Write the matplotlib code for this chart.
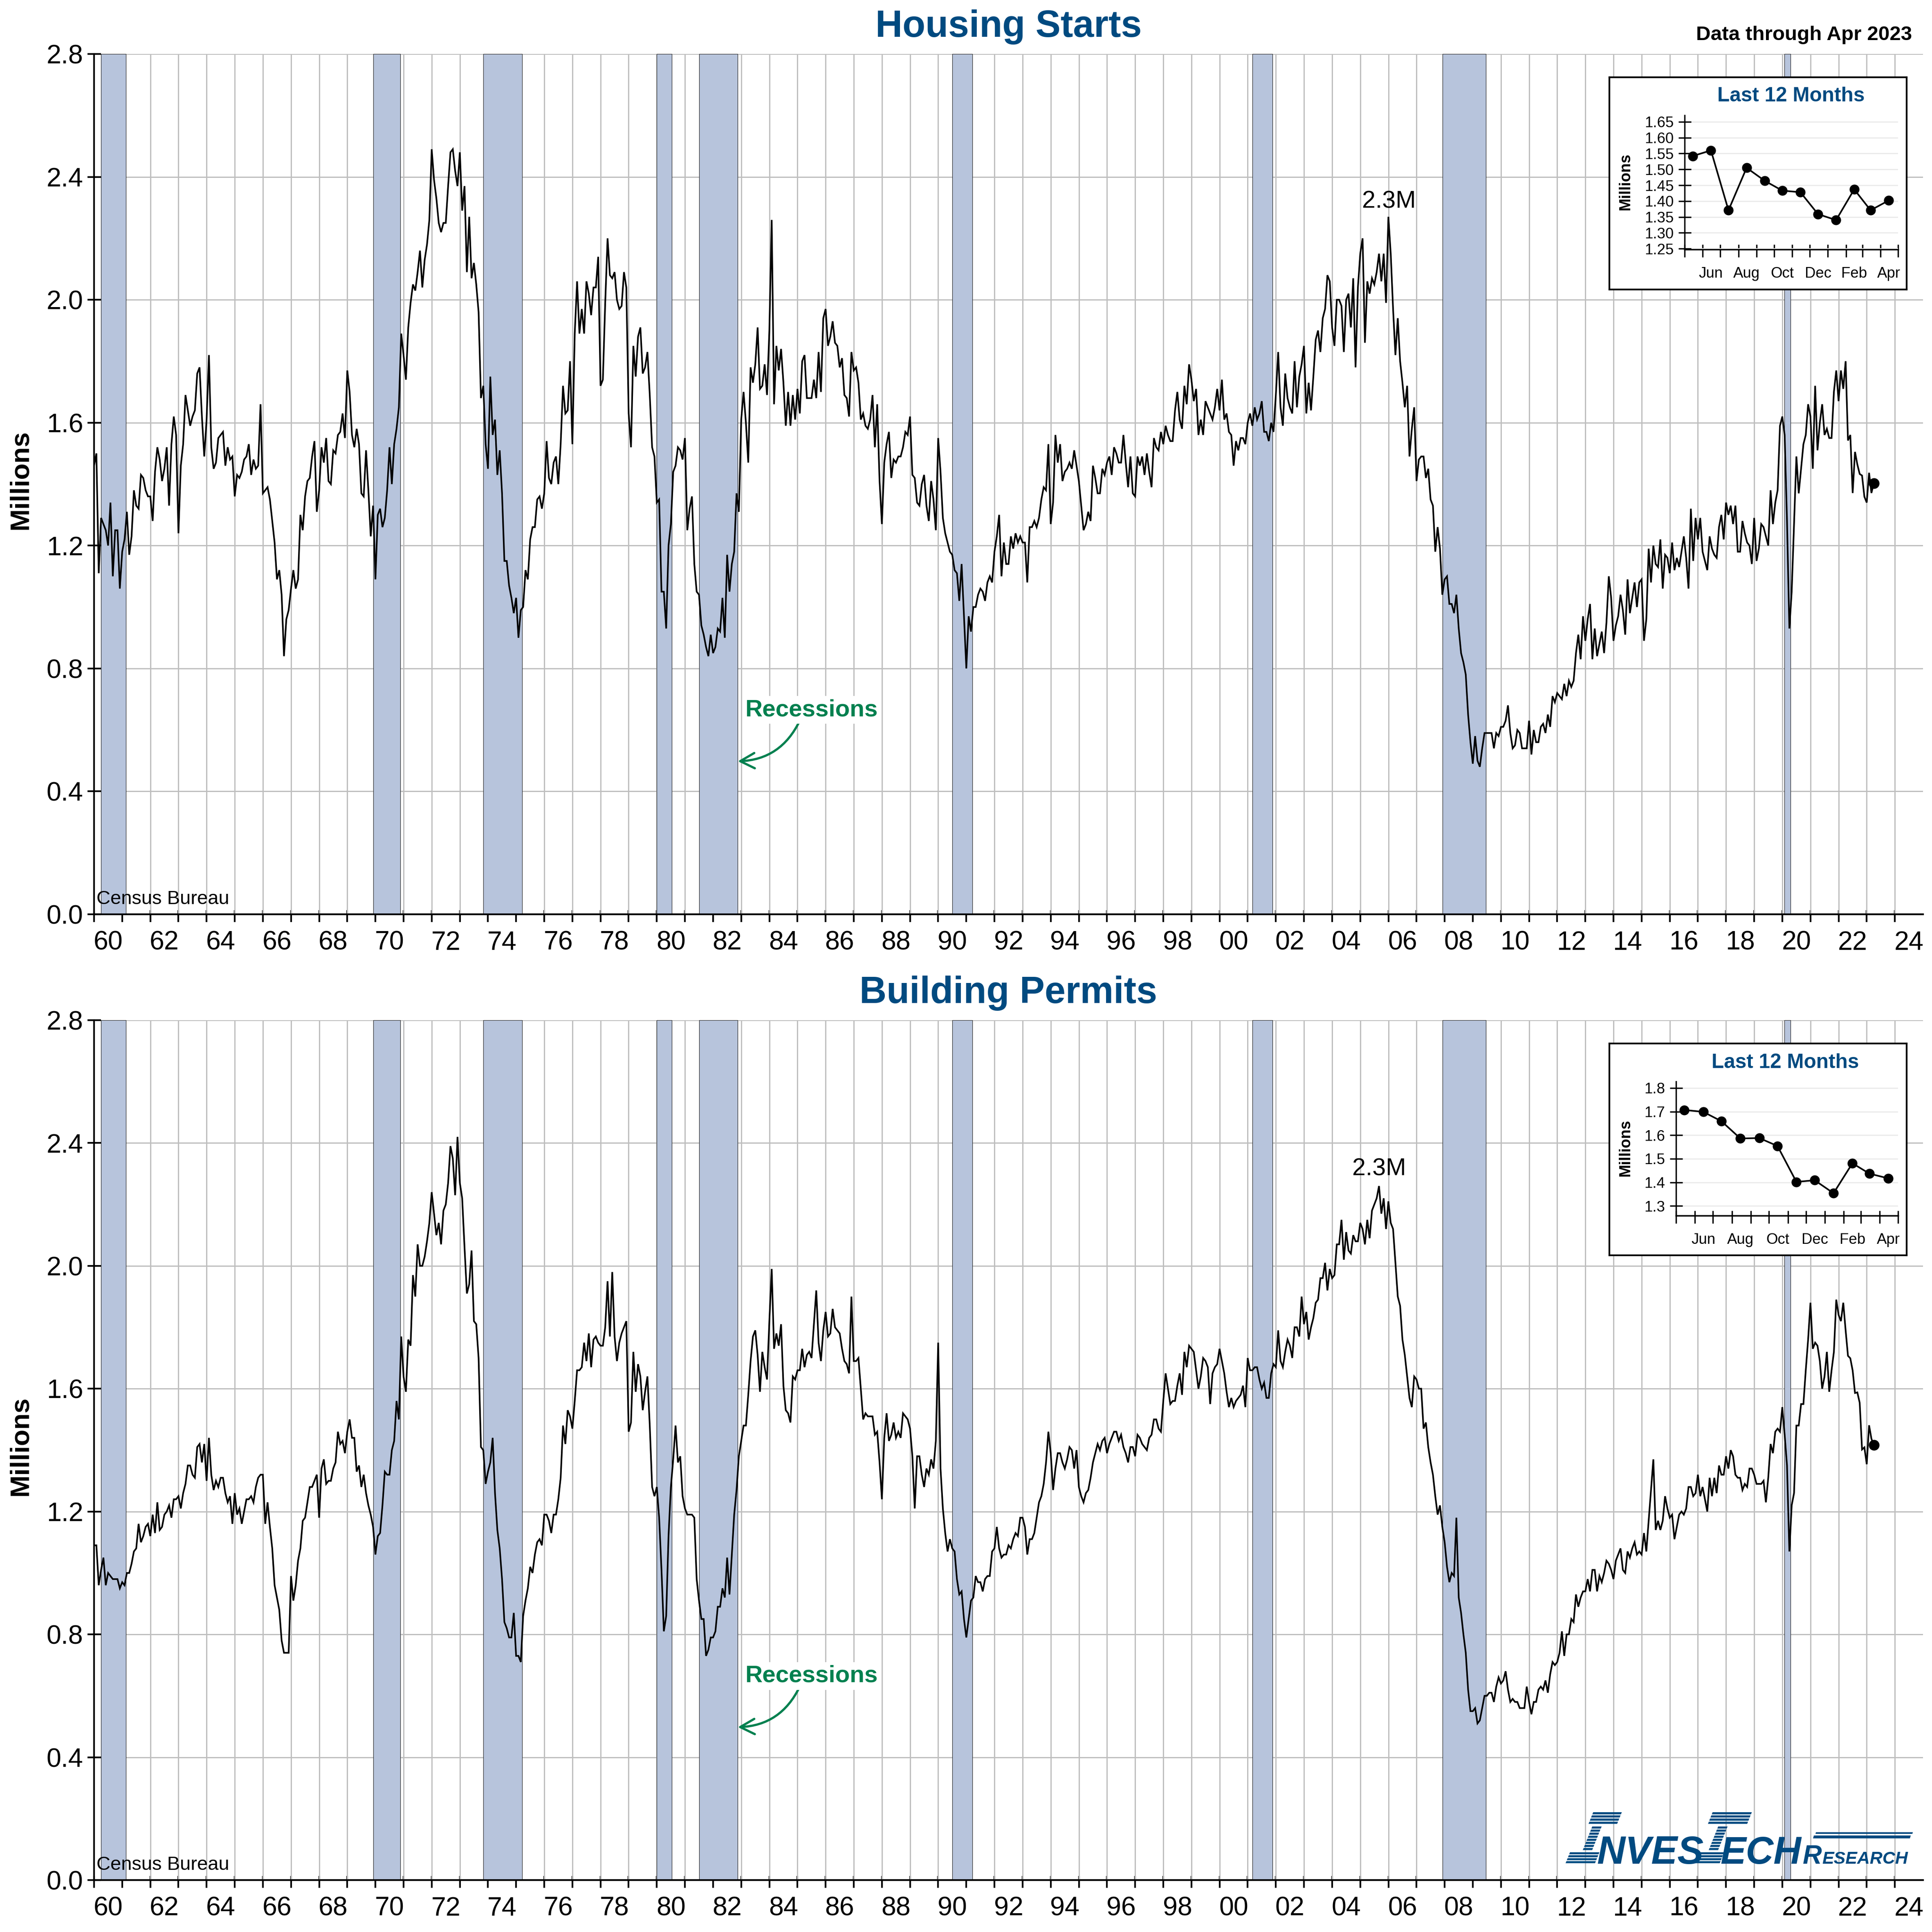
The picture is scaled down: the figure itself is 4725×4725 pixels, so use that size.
import numpy as np
import matplotlib
matplotlib.use("Agg")
import matplotlib.pyplot as plt
import matplotlib.dates as mdates
from matplotlib.patches import Polygon
from matplotlib.ticker import FixedLocator, FixedFormatter, NullFormatter
from matplotlib.transforms import Affine2D

plt.rcParams['font.family'] = ['Liberation Sans', 'DejaVu Sans']

# ---------------- data ----------------
starts_1960s = [
 1.46,1.50,1.11,1.29,1.27,1.25,1.20,1.34,1.10,1.25,1.25,1.06,
 1.18,1.22,1.31,1.17,1.23,1.38,1.33,1.32,1.43,1.42,1.38,1.36,
 1.36,1.28,1.44,1.52,1.48,1.41,1.45,1.52,1.33,1.53,1.62,1.56,
 1.24,1.46,1.53,1.69,1.64,1.59,1.62,1.64,1.76,1.78,1.62,1.49,
 1.61,1.82,1.52,1.45,1.47,1.55,1.56,1.57,1.46,1.52,1.48,1.49,
 1.36,1.43,1.42,1.44,1.48,1.49,1.53,1.43,1.48,1.45,1.46,1.66,
 1.37,1.38,1.39,1.35,1.28,1.21,1.09,1.12,1.04,0.84,0.96,0.99,
 1.06,1.12,1.06,1.09,1.30,1.25,1.36,1.41,1.42,1.49,1.54,1.31,
 1.38,1.52,1.47,1.55,1.41,1.40,1.51,1.50,1.56,1.57,1.63,1.55,
 1.77,1.70,1.56,1.52,1.58,1.53,1.37,1.36,1.51,1.38,1.23,1.33]
starts_1970s = [
 1.09,1.30,1.32,1.26,1.29,1.38,1.52,1.40,1.53,1.58,1.65,1.89,
 1.82,1.74,1.91,1.99,2.05,2.03,2.09,2.16,2.04,2.13,2.18,2.26,
 2.49,2.39,2.33,2.25,2.22,2.25,2.25,2.37,2.48,2.49,2.42,2.37,
 2.48,2.29,2.37,2.09,2.27,2.07,2.12,2.05,1.96,1.68,1.72,1.53,
 1.45,1.75,1.56,1.61,1.43,1.51,1.37,1.15,1.15,1.07,1.03,0.98,
 1.03,0.90,0.99,1.00,1.12,1.09,1.22,1.26,1.26,1.35,1.36,1.32,
 1.37,1.54,1.42,1.40,1.47,1.49,1.40,1.53,1.72,1.63,1.64,1.80,
 1.53,1.89,2.06,1.89,1.97,1.89,2.06,2.02,1.95,2.04,2.04,2.14,
 1.72,1.74,1.99,2.20,2.08,2.07,2.09,2.00,1.97,1.98,2.09,2.04,
 1.63,1.52,1.85,1.75,1.88,1.91,1.76,1.78,1.83,1.69,1.52,1.49]
starts_1980s = [
 1.34,1.35,1.05,1.05,0.93,1.20,1.27,1.44,1.46,1.52,1.51,1.48,
 1.55,1.25,1.32,1.36,1.14,1.05,1.04,0.94,0.91,0.87,0.84,0.91,
 0.85,0.87,0.93,0.92,1.03,0.90,1.17,1.05,1.14,1.18,1.37,1.31,
 1.61,1.70,1.60,1.47,1.78,1.73,1.79,1.91,1.71,1.72,1.79,1.69,
 1.90,2.26,1.66,1.85,1.77,1.84,1.73,1.59,1.70,1.59,1.69,1.61,
 1.71,1.63,1.80,1.82,1.68,1.68,1.68,1.74,1.68,1.83,1.70,1.94,
 1.97,1.85,1.88,1.93,1.86,1.85,1.78,1.81,1.69,1.68,1.62,1.83,
 1.77,1.78,1.73,1.61,1.63,1.59,1.58,1.61,1.69,1.52,1.66,1.41,
 1.27,1.47,1.53,1.57,1.42,1.48,1.47,1.49,1.49,1.52,1.57,1.56,
 1.62,1.43,1.42,1.34,1.33,1.40,1.43,1.33,1.28,1.41,1.35,1.25]
starts_1990s = [
 1.55,1.44,1.29,1.24,1.21,1.18,1.17,1.12,1.11,1.02,1.14,0.97,
 0.80,0.97,0.92,1.00,1.00,1.04,1.06,1.05,1.02,1.08,1.10,1.08,
 1.18,1.23,1.30,1.10,1.21,1.14,1.14,1.23,1.19,1.24,1.21,1.23,
 1.21,1.21,1.08,1.26,1.26,1.28,1.26,1.29,1.35,1.39,1.38,1.53,
 1.27,1.34,1.56,1.47,1.53,1.41,1.44,1.45,1.47,1.45,1.51,1.46,
 1.41,1.33,1.25,1.27,1.31,1.28,1.46,1.42,1.37,1.37,1.45,1.43,
 1.47,1.49,1.43,1.52,1.50,1.47,1.47,1.56,1.47,1.39,1.49,1.37,
 1.36,1.49,1.46,1.49,1.43,1.50,1.44,1.39,1.55,1.52,1.51,1.57,
 1.53,1.59,1.56,1.54,1.54,1.64,1.70,1.61,1.58,1.72,1.66,1.79,
 1.74,1.67,1.71,1.56,1.61,1.56,1.67,1.65,1.63,1.61,1.65,1.71]
starts_2000s = [
 1.64,1.74,1.61,1.63,1.57,1.56,1.46,1.54,1.51,1.55,1.55,1.53,
 1.60,1.63,1.59,1.65,1.61,1.63,1.67,1.57,1.57,1.54,1.60,1.57,
 1.69,1.83,1.65,1.59,1.76,1.68,1.65,1.63,1.80,1.65,1.75,1.79,
 1.85,1.63,1.73,1.64,1.75,1.87,1.90,1.83,1.94,1.97,2.08,2.06,
 1.91,1.85,2.00,2.00,1.98,1.83,2.00,2.02,1.91,2.07,1.78,2.04,
 2.15,2.20,1.86,2.06,2.02,2.07,2.05,2.09,2.15,2.06,2.15,1.99,
 2.27,2.15,1.97,1.82,1.94,1.80,1.73,1.65,1.72,1.49,1.58,1.65,
 1.41,1.48,1.49,1.49,1.42,1.45,1.35,1.33,1.18,1.26,1.19,1.04,
 1.09,1.10,1.01,1.01,0.98,1.04,0.93,0.85,0.82,0.78,0.65,0.56,
 0.49,0.58,0.50,0.48,0.54,0.59,0.59,0.59,0.59,0.54,0.59,0.58]
starts_2010s = [
 0.61,0.61,0.63,0.68,0.59,0.54,0.55,0.60,0.59,0.54,0.54,0.54,
 0.63,0.52,0.60,0.56,0.56,0.61,0.62,0.59,0.65,0.61,0.71,0.69,
 0.72,0.71,0.70,0.75,0.71,0.76,0.74,0.76,0.85,0.91,0.83,0.97,
 0.89,0.96,1.01,0.83,0.93,0.84,0.88,0.92,0.85,0.95,1.10,1.03,
 0.89,0.94,0.97,1.04,0.99,0.91,1.09,0.98,1.03,1.08,1.00,1.08,
 1.09,0.89,0.96,1.19,1.08,1.20,1.14,1.13,1.22,1.06,1.17,1.16,
 1.11,1.21,1.12,1.16,1.13,1.18,1.23,1.16,1.06,1.32,1.15,1.29,
 1.22,1.29,1.18,1.15,1.12,1.23,1.19,1.17,1.16,1.26,1.30,1.22,
 1.34,1.30,1.33,1.27,1.33,1.18,1.18,1.28,1.24,1.21,1.20,1.14,
 1.29,1.15,1.19,1.27,1.26,1.23,1.20,1.38,1.27,1.34,1.38,1.59]
starts_2020_22 = [
 1.62,1.56,1.28,0.93,1.05,1.27,1.49,1.37,1.45,1.53,1.56,1.66,
 1.62,1.45,1.72,1.51,1.60,1.66,1.56,1.58,1.55,1.55,1.70,1.77,
 1.67,1.77,1.71,1.80]
starts_last12 = [1.542,1.560,1.371,1.505,1.464,1.433,1.428,1.359,1.340,1.437,1.371,1.402]

permits_1960s = [
 1.09,1.09,0.96,1.01,1.05,0.96,1.00,0.99,0.98,0.98,0.98,0.95,
 0.97,0.96,1.00,1.00,1.03,1.07,1.08,1.16,1.10,1.12,1.15,1.16,
 1.12,1.19,1.13,1.23,1.14,1.15,1.19,1.20,1.22,1.18,1.24,1.24,
 1.25,1.21,1.26,1.29,1.35,1.35,1.32,1.31,1.41,1.42,1.36,1.42,
 1.30,1.44,1.32,1.27,1.30,1.28,1.31,1.31,1.26,1.23,1.25,1.16,
 1.26,1.19,1.21,1.16,1.20,1.24,1.24,1.25,1.23,1.28,1.31,1.32,
 1.32,1.16,1.23,1.15,1.08,0.96,0.92,0.88,0.78,0.74,0.74,0.74,
 0.99,0.91,0.96,1.04,1.08,1.17,1.18,1.23,1.28,1.28,1.30,1.32,
 1.18,1.34,1.37,1.29,1.30,1.30,1.34,1.36,1.46,1.42,1.43,1.39,
 1.46,1.50,1.44,1.44,1.33,1.35,1.28,1.32,1.26,1.22,1.19,1.15]
permits_1970s = [
 1.06,1.12,1.13,1.22,1.33,1.32,1.32,1.40,1.43,1.56,1.50,1.77,
 1.64,1.59,1.76,1.74,1.97,1.90,2.07,2.00,2.00,2.03,2.08,2.14,
 2.24,2.17,2.10,2.14,2.07,2.18,2.20,2.27,2.39,2.35,2.23,2.42,
 2.27,2.22,2.06,1.91,1.94,2.05,1.82,1.81,1.70,1.41,1.40,1.29,
 1.33,1.36,1.44,1.26,1.14,1.08,0.98,0.84,0.82,0.79,0.79,0.87,
 0.73,0.73,0.71,0.86,0.91,0.95,1.02,1.00,1.06,1.10,1.11,1.09,
 1.19,1.19,1.17,1.13,1.19,1.19,1.24,1.31,1.48,1.42,1.53,1.51,
 1.47,1.56,1.66,1.66,1.67,1.75,1.69,1.78,1.67,1.76,1.77,1.75,
 1.74,1.74,1.80,1.95,1.77,1.98,1.77,1.69,1.75,1.78,1.80,1.82,
 1.46,1.49,1.72,1.59,1.68,1.64,1.53,1.59,1.64,1.48,1.28,1.25]
permits_1980s = [
 1.28,1.18,1.01,0.81,0.86,1.12,1.28,1.37,1.48,1.36,1.38,1.25,
 1.21,1.19,1.19,1.19,1.18,0.98,0.91,0.85,0.85,0.73,0.75,0.79,
 0.79,0.81,0.89,0.89,0.95,0.92,1.05,0.93,1.06,1.19,1.27,1.38,
 1.43,1.48,1.48,1.58,1.69,1.77,1.79,1.71,1.59,1.72,1.67,1.63,
 1.82,1.99,1.73,1.78,1.74,1.81,1.61,1.53,1.52,1.49,1.64,1.63,
 1.66,1.66,1.73,1.67,1.71,1.72,1.70,1.81,1.92,1.75,1.69,1.79,
 1.85,1.77,1.78,1.86,1.80,1.79,1.78,1.73,1.69,1.68,1.65,1.90,
 1.69,1.69,1.70,1.60,1.50,1.52,1.51,1.51,1.51,1.45,1.46,1.36,
 1.24,1.44,1.52,1.43,1.45,1.49,1.44,1.46,1.44,1.52,1.51,1.50,
 1.47,1.38,1.21,1.38,1.38,1.32,1.28,1.34,1.32,1.37,1.34,1.43]
permits_1990s = [
 1.75,1.34,1.21,1.13,1.07,1.11,1.08,1.07,0.98,0.93,0.94,0.85,
 0.79,0.85,0.91,0.92,0.99,0.97,0.97,0.94,0.98,0.99,0.99,1.07,
 1.08,1.15,1.08,1.05,1.06,1.06,1.09,1.08,1.11,1.13,1.12,1.18,
 1.18,1.15,1.06,1.11,1.11,1.13,1.18,1.23,1.25,1.29,1.36,1.46,
 1.39,1.27,1.34,1.39,1.39,1.36,1.34,1.37,1.41,1.40,1.34,1.40,
 1.28,1.25,1.23,1.26,1.27,1.31,1.36,1.39,1.42,1.40,1.43,1.44,
 1.39,1.42,1.44,1.46,1.46,1.43,1.45,1.41,1.39,1.36,1.41,1.41,
 1.38,1.45,1.44,1.42,1.41,1.40,1.44,1.45,1.50,1.50,1.47,1.46,
 1.56,1.65,1.60,1.55,1.56,1.56,1.61,1.65,1.58,1.72,1.67,1.74,
 1.73,1.72,1.66,1.60,1.64,1.70,1.69,1.67,1.55,1.65,1.67,1.68]
permits_2000s = [
 1.73,1.69,1.65,1.59,1.54,1.57,1.54,1.56,1.57,1.58,1.61,1.54,
 1.70,1.66,1.66,1.67,1.67,1.63,1.60,1.62,1.57,1.57,1.65,1.68,
 1.67,1.79,1.69,1.67,1.72,1.76,1.74,1.70,1.80,1.80,1.77,1.90,
 1.81,1.85,1.76,1.80,1.83,1.88,1.89,1.96,1.96,2.01,1.92,1.99,
 1.96,1.97,2.07,2.07,2.15,2.02,2.11,2.05,2.04,2.10,2.08,2.08,
 2.14,2.12,2.07,2.15,2.09,2.18,2.20,2.22,2.26,2.17,2.22,2.12,
 2.21,2.14,2.12,2.01,1.90,1.87,1.76,1.71,1.64,1.57,1.54,1.64,
 1.63,1.60,1.60,1.47,1.49,1.41,1.36,1.32,1.25,1.19,1.22,1.15,
 1.10,1.02,0.97,1.00,0.99,1.18,0.92,0.87,0.80,0.74,0.62,0.55,
 0.55,0.56,0.51,0.52,0.56,0.60,0.60,0.61,0.61,0.58,0.63,0.66]
permits_2010s = [
 0.64,0.65,0.68,0.62,0.58,0.59,0.58,0.58,0.56,0.56,0.56,0.63,
 0.58,0.54,0.58,0.58,0.62,0.63,0.62,0.65,0.61,0.67,0.71,0.70,
 0.71,0.74,0.81,0.73,0.80,0.80,0.85,0.84,0.93,0.89,0.92,0.94,
 0.94,0.98,0.94,1.01,1.01,0.94,0.99,0.97,1.00,1.04,1.03,1.01,
 0.98,1.04,1.06,1.08,1.01,1.00,1.07,1.05,1.08,1.10,1.06,1.07,
 1.06,1.13,1.07,1.17,1.27,1.37,1.14,1.17,1.14,1.17,1.25,1.21,
 1.18,1.19,1.11,1.15,1.19,1.20,1.19,1.21,1.28,1.28,1.25,1.26,
 1.32,1.25,1.28,1.24,1.20,1.31,1.25,1.31,1.26,1.35,1.32,1.32,
 1.38,1.34,1.40,1.38,1.32,1.31,1.31,1.27,1.29,1.28,1.34,1.34,
 1.32,1.29,1.29,1.29,1.30,1.23,1.31,1.42,1.39,1.46,1.47,1.46]
permits_2020_22 = [
 1.54,1.45,1.35,1.07,1.22,1.26,1.48,1.48,1.55,1.55,1.66,1.76,
 1.88,1.73,1.75,1.74,1.69,1.60,1.64,1.72,1.59,1.66,1.72,1.89,
 1.84,1.82,1.88,1.79]
permits_last12 = [1.707,1.699,1.659,1.586,1.588,1.554,1.402,1.409,1.354,1.481,1.437,1.417]

starts = (starts_1960s + starts_1970s + starts_1980s + starts_1990s +
          starts_2000s + starts_2010s + starts_2020_22 + starts_last12)
permits = (permits_1960s + permits_1970s + permits_1980s + permits_1990s +
           permits_2000s + permits_2010s + permits_2020_22 + permits_last12)

recession_start = [1960.25, 1969.92, 1973.83, 1980.00, 1981.50, 1990.50, 2001.17, 2007.92, 2020.08]
recession_end   = [1961.13, 1970.88, 1975.21, 1980.54, 1982.88, 1991.21, 2001.88, 2009.46, 2020.29]

year_ticks = list(range(1960, 2025))
year_labels = ['60','62','64','66','68','70','72','74','76','78','80','82','84','86','88','90','92','94',
               '96','98','00','02','04','06','08','10','12','14','16','18','20','22','24']
main_yticks = [0.0, 0.4, 0.8, 1.2, 1.6, 2.0, 2.4, 2.8]
month_starts = ['2022-05-01','2022-06-01','2022-07-01','2022-08-01','2022-09-01','2022-10-01','2022-11-01',
                '2022-12-01','2023-01-01','2023-02-01','2023-03-01','2023-04-01','2023-05-01']
month_mids = ['2022-05-15','2022-06-15','2022-07-15','2022-08-15','2022-09-15','2022-10-15','2022-11-15',
              '2022-12-15','2023-01-15','2023-02-15','2023-03-15','2023-04-15']
inset_month_labels = ['Jun','Aug','Oct','Dec','Feb','Apr']
starts_inset_ticks = [1.25,1.30,1.35,1.40,1.45,1.50,1.55,1.60,1.65]
permits_inset_ticks = [1.3,1.4,1.5,1.6,1.7,1.8]

# ---------------- layout helpers (pixel space of the 4725 px picture) ----------------
W = 4725.0
DPI = 300
PX = 72.0 / DPI   # points per pixel
fig = plt.figure(figsize=(W / DPI, W / DPI), dpi=DPI, facecolor='white')

def rect(l, t, r, b):
    return [l / W, 1 - b / W, (r - l) / W, (b - t) / W]

def fx(x, y):
    return x / W, 1 - y / W

BLUE = '#004A80'
GREEN = '#00804F'
GRID = '#BEBEBE'
BAND = '#B7C4DC'
AXW = 4.2 * PX

def draw_main(bbox, values, title, peak_xy):
    ax = fig.add_axes(rect(*bbox), zorder=1)
    ax.set_xlim(1960, 2025)
    ax.set_ylim(0, 2.8)
    x = 1960 + np.arange(len(values)) / 12.0
    ax.set_axisbelow(True)
    ax.xaxis.set_major_locator(FixedLocator(year_ticks))
    ax.xaxis.set_major_formatter(NullFormatter())
    ax.xaxis.set_minor_locator(FixedLocator([y + 0.5 for y in range(1960, 2025, 2)]))
    ax.xaxis.set_minor_formatter(FixedFormatter(year_labels))
    ax.set_yticks(main_yticks)
    ax.set_yticklabels([f'{v:.1f}' for v in main_yticks])
    ax.grid(True, which='major', color=GRID, lw=3 * PX)
    ax.tick_params(axis='x', which='major', direction='out', length=19 * PX, width=AXW)
    ax.tick_params(axis='x', which='minor', length=0, pad=9.5, labelsize=15.5)
    ax.tick_params(axis='y', which='major', direction='inout', length=33 * PX, width=AXW,
                   pad=2.4, labelsize=15.5)
    sec = ax.secondary_xaxis('bottom')
    sec.set_xticks(year_ticks)
    sec.tick_params(axis='x', direction='in', length=10 * PX, width=AXW, labelbottom=False)
    sec.spines['bottom'].set_linewidth(AXW)
    for s in ('top', 'right'):
        ax.spines[s].set_visible(False)
    for s in ('left', 'bottom'):
        ax.spines[s].set_linewidth(AXW)
    for a, b in zip(recession_start, recession_end):
        ax.axvspan(a, b, facecolor=BAND, edgecolor='#222222', lw=1.2 * PX, zorder=1.5)
    ax.plot(x, values, color='black', lw=4 * PX, solid_joinstyle='miter', zorder=3)
    ax.plot(x[-1], values[-1], 'o', color='black', ms=22 * PX, zorder=4)
    ax.set_ylabel('Millions', fontsize=15.7, fontweight='bold', va='center')
    ax.yaxis.set_label_coords(-180 / 4473.0, 0.505)
    ax.set_title(title, fontsize=22, fontweight='bold', color=BLUE, pad=10)
    ax.text(1960.09, 0.049, 'Census Bureau', fontsize=11.3, ha='left', va='center', zorder=5)
    ax.text(peak_xy[0], peak_xy[1], '2.3M', fontsize=14.2, ha='center', va='center', zorder=5)
    ax.annotate('Recessions', xy=(1982.88, 0.498), xytext=(1985.5, 0.665), fontsize=14,
                fontweight='bold', color=GREEN, ha='center', va='center', zorder=5,
                bbox=dict(boxstyle='square,pad=0.12', fc='white', ec='none'),
                arrowprops=dict(arrowstyle='->,head_length=0.6,head_width=0.32',
                                connectionstyle='arc3,rad=-0.3', relpos=(0.41, 0),
                                shrinkA=0, shrinkB=0, color=GREEN, lw=5.5 * PX,
                                mutation_scale=14, patchA=None))
    return ax

def draw_inset(box, inner, values, ticks, ylim, labfmt, title_xy, mill_xy):
    bx = fig.add_axes(rect(*box), zorder=5, facecolor='white')
    bx.set_xticks([]); bx.set_yticks([])
    for s in bx.spines.values():
        s.set_linewidth(AXW)
    ax = fig.add_axes(rect(*inner), zorder=6)
    ax.patch.set_alpha(0)
    starts_d = mdates.date2num(np.array(month_starts, dtype='datetime64[D]'))
    mids_d = mdates.date2num(np.array(month_mids, dtype='datetime64[D]'))
    ax.set_xlim(starts_d[0], starts_d[-1])
    ax.set_ylim(*ylim)
    ax.xaxis.set_major_locator(FixedLocator(list(starts_d)))
    ax.xaxis.set_major_formatter(NullFormatter())
    ax.xaxis.set_minor_locator(FixedLocator(list(mids_d[1::2])))
    ax.xaxis.set_minor_formatter(FixedFormatter(inset_month_labels))
    ax.set_yticks(ticks)
    ax.set_yticklabels([labfmt.format(v) for v in ticks])
    ax.grid(True, axis='y', color='#EBEBEB', lw=3 * PX)
    ax.set_axisbelow(True)
    ax.tick_params(axis='x', which='major', direction='out', length=19 * PX, width=3.4 * PX)
    ax.tick_params(axis='x', which='minor', length=0, pad=10, labelsize=8.8)
    ax.tick_params(axis='y', direction='inout', length=31 * PX, width=3.4 * PX, pad=2.6, labelsize=8.8)
    sec = ax.secondary_xaxis('bottom')
    sec.set_xticks(list(starts_d))
    sec.tick_params(axis='x', direction='in', length=12 * PX, width=3.4 * PX, labelbottom=False)
    sec.spines['bottom'].set_linewidth(3.4 * PX)
    for s in ('top', 'right'):
        ax.spines[s].set_visible(False)
    for s in ('left', 'bottom'):
        ax.spines[s].set_linewidth(3.4 * PX)
    ax.plot(mids_d, values, color='black', lw=4 * PX, marker='o', ms=20 * PX, clip_on=False, zorder=3)
    fig.text(*fx(*title_xy), 'Last 12 Months', fontsize=11.9, fontweight='bold', color=BLUE,
             ha='center', va='center', zorder=7)
    fig.text(*fx(*mill_xy), 'Millions', fontsize=9, fontweight='bold', rotation=90,
             ha='center', va='center', zorder=7)

# ---------------- panels ----------------
draw_main((230, 132, 4703, 2236), starts, 'Housing Starts', (2006.02, 2.32))
draw_main((230, 2495, 4703, 4598), permits, 'Building Permits', (2005.67, 2.315))

fig.text(*fx(4676, 85), 'Data through Apr 2023', fontsize=11.85, fontweight='bold',
         ha='right', va='center', zorder=7)

draw_inset((3936, 189, 4663, 708), (4120, 282, 4642, 610), starts_last12, starts_inset_ticks,
           (1.2475, 1.6706), '{:.2f}', (4380, 235), (3976, 444))
draw_inset((3936, 2552, 4663, 3070), (4098.6, 2645, 4642, 2973), permits_last12, permits_inset_ticks,
           (1.259, 1.8276), '{:.1f}', (4366, 2599), (3976, 2807))

# ---------------- logo ----------------
to_fig = Affine2D().scale(1 / W, -1 / W).translate(0, 1) + fig.transFigure

def bar(x0, x1, y0, y1, skew=0.4):
    # x0, x1 are the edges at the bar's lower side y1
    d = skew * (y1 - y0)
    poly = Polygon([(x0, y1), (x1, y1), (x1 + d, y0), (x0 + d, y0)], closed=True,
                   transform=to_fig, facecolor=BLUE, edgecolor='none', zorder=8)
    fig.add_artist(poly)

def stripes(x0, x1, ytop, ybot, n, gap_frac=0.32, skew=0.4):
    step = (ybot - ytop) / n
    for i in range(n):
        y0 = ytop + i * step
        y1 = y0 + step * (1 - gap_frac)
        sh = skew * (ybot - y1)
        bar(x0 + sh, x1 + sh, y0, y1, skew)

stripes(3884, 3954, 4432, 4463, 4)
stripes(3870, 3893, 4467, 4527, 8)
stripes(3828, 3900, 4530, 4559, 4)
stripes(4176, 4272, 4432, 4463, 4)
stripes(4178, 4201, 4467, 4527, 8)
stripes(4142, 4205, 4530, 4559, 4)
bar(4440, 4677, 4481, 4485, 0.3)
bar(4434, 4671, 4489, 4496, 0.3)

logo_kw = dict(fontweight='bold', fontstyle='italic', color=BLUE, ha='left', va='baseline', zorder=8)
fig.text(*fx(3905, 4558), 'NVES', fontsize=23, **logo_kw)
fig.text(*fx(4207, 4558), 'ECH', fontsize=22.5, **logo_kw)
fig.text(*fx(4409, 4558), 'R', fontsize=15.5, **logo_kw)
fig.text(*fx(4456, 4558), 'ESEARCH', fontsize=10.3, **logo_kw)

fig.savefig('out.png', dpi=DPI, facecolor='white')
